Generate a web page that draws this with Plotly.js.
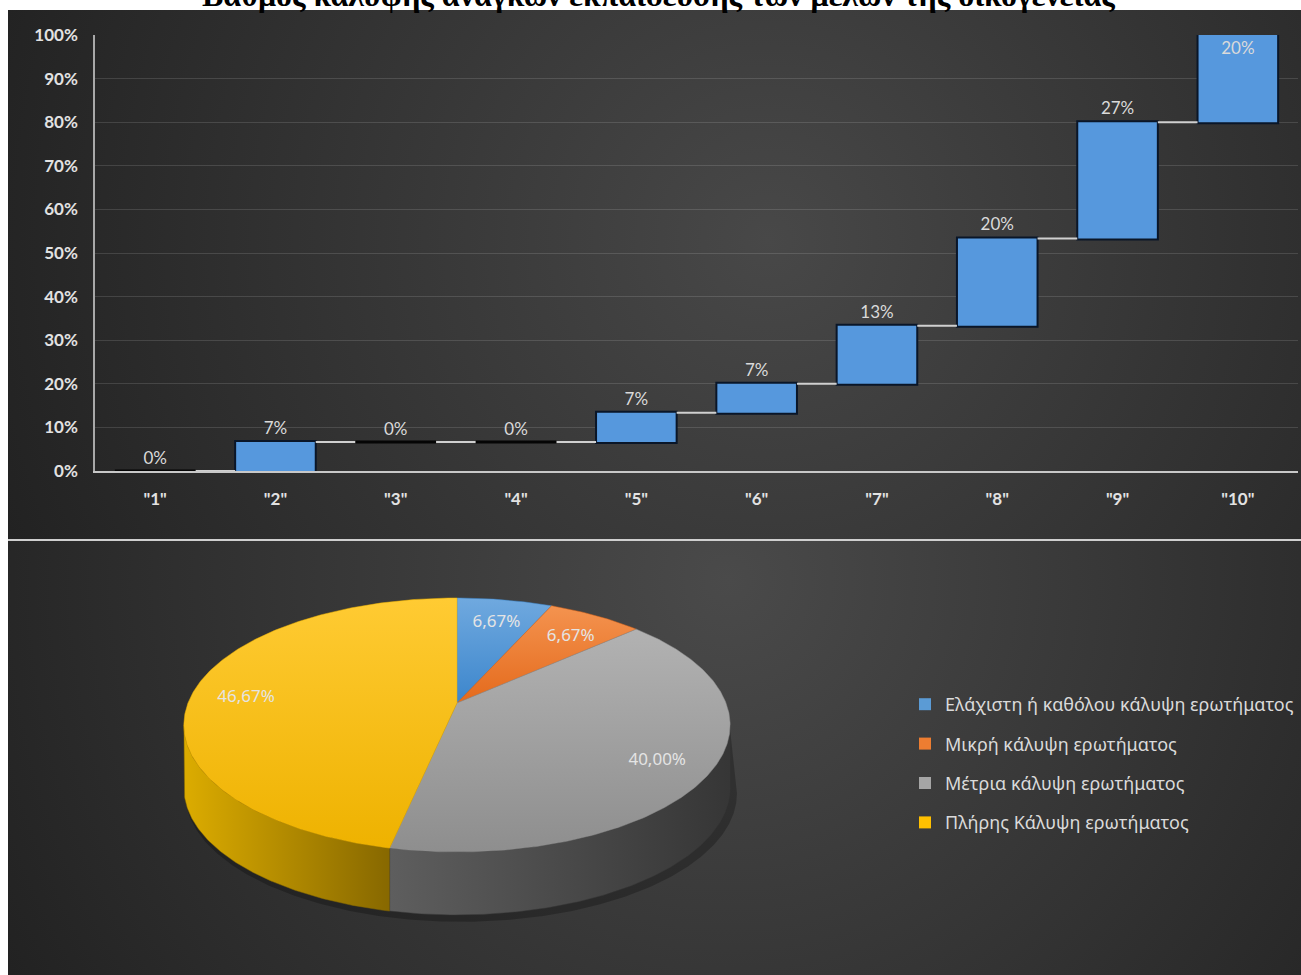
<!DOCTYPE html>
<html><head><meta charset="utf-8">
<script src="https://cdn.plot.ly/plotly-3.0.1.min.js"></script>
<style>html,body{margin:0;padding:0;background:#fff;}#chart{width:1301px;height:975px;}</style>
</head><body><div id="chart"></div>
<script>
// ---------- data ----------
const chartTitle = 'Βαθμός κάλυψης αναγκών εκπαίδευσης των μελών της οικογένειας';
const scoreLabels = ['"1"','"2"','"3"','"4"','"5"','"6"','"7"','"8"','"9"','"10"'];
const scoreShares = [0, 6.67, 0, 0, 6.67, 6.67, 13.33, 20, 26.67, 20];
const yTickValues = [0,10,20,30,40,50,60,70,80,90,100];
const yTickLabels = ['0%','10%','20%','30%','40%','50%','60%','70%','80%','90%','100%'];
const coverageLabels = ['Ελάχιστη ή καθόλου κάλυψη ερωτήματος','Μικρή κάλυψη ερωτήματος','Μέτρια κάλυψη ερωτήματος','Πλήρης Κάλυψη ερωτήματος'];
const coverageShares = [6.67, 6.67, 40.00, 46.67];
const coverageText = ['6,67%','6,67%','40,00%','46,67%'];

// ---------- styling ----------
const W = 1301, H = 975;
const txtCol = '#dadada';
const topFace = [['#70a9df','#3c86cc'],['#f4934f','#e46a1c'],['#b2b2b2','#8e8e8e'],['#ffcb33','#eeb200']];
const legendCol = ['#5b9bd5','#ed7d31','#a5a5a5','#ffc000'];
const sideFace = [['#3c86cc','#2a5f91'],['#d8641c','#9a4712'],['#5e5e5e','#363636'],['#dcac00','#876800']];
const gapFrac = 0.33;

function panelBg(w,h,cx,cy,r,inner,outer){
  const c=document.createElement('canvas'); c.width=w; c.height=h;
  const g=c.getContext('2d');
  const gr=g.createRadialGradient(cx,cy,0,cx,cy,r);
  gr.addColorStop(0,inner); gr.addColorStop(1,outer);
  g.fillStyle=gr; g.fillRect(0,0,w,h);
  return c.toDataURL();
}
const topBg = panelBg(1293,530,760,230,880,'#484848','#1f1f1f');
const botBg = panelBg(1293,435,720,40,900,'#4a4a4a','#1e1e1e');

// ---------- waterfall ----------
const last = scoreShares.length-1;
const lblFont = {color:txtCol,size:17,family:'Lato'};
const traces = [];
traces.push({
  type:'waterfall', x:scoreLabels, y:scoreShares,
  measure:scoreShares.map(()=> 'relative'),
  text:scoreShares.map(v=>Math.round(v)+'%'),
  textposition:scoreShares.map((v,i)=> i===last?'inside':'outside'),
  insidetextanchor:'end', constraintext:'none',
  textfont:lblFont, outsidetextfont:lblFont, insidetextfont:lblFont,
  increasing:{marker:{color:'#5698dd',line:{color:'#0a1628',width:2}}},
  decreasing:{marker:{color:'#5698dd',line:{color:'#0a1628',width:2}}},
  connector:{mode:'between',line:{color:'#d0d0d0',width:2}},
  cliponaxis:false, showlegend:false, hoverinfo:'skip',
  xaxis:'x', yaxis:'y'
});
// zero-height steps drawn as black dashes at their running level (on an index axis matching the categories)
{
  let run=0; const zx=[], zy=[];
  scoreShares.forEach((v,i)=>{
    if(v===0){ const hw=(1-gapFrac)/2; zx.push(i-hw,i+hw,null); zy.push(run,run,null); }
    run+=v;
  });
  traces.push({type:'scatter',mode:'lines',x:zx,y:zy,line:{color:'#050505',width:3},
    cliponaxis:false,showlegend:false,hoverinfo:'skip',xaxis:'x3',yaxis:'y'});
}

// ---------- 3D pie (projected ellipse) ----------
const cx=457, cy=703, R=269, A=123.2, K=0.173, depth=63;
function proj(r,t){ const u=r*Math.sin(t), v=r*Math.cos(t); const d=1+K*v/R; return [cx+u/d, cy-(A/R)*v/d]; }
const total = coverageShares.reduce((a,b)=>a+b,0);
const bounds=[0]; coverageShares.forEach((v,i)=>bounds.push(bounds[i]+v/total*2*Math.PI));
const tR = Math.acos(-K), tL = 2*Math.PI - tR;
function arc(t0,t1,r,dy){ const pts=[]; const n=Math.max(2,Math.ceil((t1-t0)/0.01)); for(let i=0;i<=n;i++){const p=proj(r,t0+(t1-t0)*i/n); pts.push([p[0],p[1]+(dy||0)]);} return pts; }

// shadow
{
  const top=arc(tR,tL,R*1.01,depth+5), pts=top.concat(arc(tR,tL,R*0.98,-10).reverse());
  traces.push({type:'scatter',mode:'lines',x:pts.map(p=>p[0]+4),y:pts.map(p=>p[1]),fill:'toself',fillcolor:'rgba(0,0,0,0.25)',line:{width:0},showlegend:false,hoverinfo:'skip',xaxis:'x2',yaxis:'y2'});
}
// sides
coverageShares.forEach((v,i)=>{
  const lo=Math.max(bounds[i],tR), hi=Math.min(bounds[i+1],tL);
  if(lo>=hi) return;
  const topE=arc(lo,hi,R,0), botE=arc(lo,hi,R,depth).reverse();
  const pts=topE.concat(botE);
  const xs=pts.map(p=>p[0]), ys=pts.map(p=>p[1]);
  const x0=Math.min(...xs), x1=Math.max(...xs);
  traces.push({type:'scatter',mode:'lines',x:xs,y:ys,fill:'toself',
    fillgradient:{type:'horizontal',start:x0,stop:x1,colorscale:[[0,sideFace[i][0]],[1,sideFace[i][1]]]},
    line:{width:0.5,color:sideFace[i][1]},showlegend:false,hoverinfo:'skip',xaxis:'x2',yaxis:'y2'});
});
// top faces
coverageShares.forEach((v,i)=>{
  const pts=[[cx,cy]].concat(arc(bounds[i],bounds[i+1],R,0)); pts.push([cx,cy]);
  const xs=pts.map(p=>p[0]), ys=pts.map(p=>p[1]);
  traces.push({type:'scatter',mode:'lines',x:xs,y:ys,fill:'toself',
    fillgradient:{type:'vertical',start:Math.min(...ys),stop:Math.max(...ys),colorscale:[[0,topFace[i][0]],[1,topFace[i][1]]]},
    line:{width:0.5,color:topFace[i][1]},name:coverageLabels[i],showlegend:false,hoverinfo:'skip',xaxis:'x2',yaxis:'y2'});
});
// labels
{
  const lp = coverageShares.map((v,i)=>proj(0.8*R,(bounds[i]+bounds[i+1])/2));
  traces.push({type:'scatter',mode:'text',x:lp.map(p=>p[0]),y:lp.map(p=>p[1]+5),text:coverageText,
    textfont:{color:'#e4e4e4',size:17,family:'Noto Sans'},showlegend:false,hoverinfo:'skip',xaxis:'x2',yaxis:'y2'});
}
// legend entries
coverageLabels.forEach((lab,i)=>{
  traces.push({type:'scatter',mode:'markers',x:[null],y:[null],name:lab,legendgroup:'g'+i,
    marker:{symbol:'square',size:12,color:legendCol[i]},xaxis:'x2',yaxis:'y2',hoverinfo:'skip'});
});

const tickFont = {color:'#e2e2e2',size:17,family:'Lato',weight:'bold'};
const xDom = [95/W,1298/W];
const layout = {
  width:W, height:H, margin:{l:0,r:0,t:0,b:0},
  paper_bgcolor:'#ffffff', plot_bgcolor:'rgba(0,0,0,0)',
  waterfallgap:gapFrac, bargap:gapFrac, showlegend:true,
  xaxis:{domain:xDom, type:'category', range:[-0.5, scoreLabels.length-0.5], showgrid:false, zeroline:false,
    showline:true, linecolor:'#c8c8c8', linewidth:2, ticks:'', ticklabelstandoff:12,
    tickfont:tickFont, fixedrange:true},
  xaxis3:{domain:xDom, overlaying:'x', anchor:'y', range:[-0.5, scoreLabels.length-0.5], visible:false, fixedrange:true},
  yaxis:{domain:[1-471/H,1-35/H], range:[0,100.02], tickmode:'array', tickvals:yTickValues, ticktext:yTickLabels,
    showgrid:true, gridcolor:'rgba(255,255,255,0.13)', gridwidth:1, zeroline:false,
    showline:true, linecolor:'#a8a8a8', linewidth:1.5, ticks:'', ticklabelstandoff:12,
    tickfont:tickFont, fixedrange:true},
  xaxis2:{domain:[0,1], range:[0,W], visible:false, anchor:'y2', fixedrange:true},
  yaxis2:{domain:[0,1], range:[H,0], visible:false, anchor:'x2', fixedrange:true},
  legend:{x:905/W, y:1-686/H, xanchor:'left', yanchor:'top', bgcolor:'rgba(0,0,0,0)',
    font:{color:txtCol,size:18,family:'Noto Sans'}, traceorder:'grouped', tracegroupgap:13, itemclick:false},
  images:[
    {source:topBg, xref:'paper', yref:'paper', x:8/W, y:1-10/H, sizex:1293/W, sizey:530/H, sizing:'stretch', xanchor:'left', yanchor:'top', layer:'below'},
    {source:botBg, xref:'paper', yref:'paper', x:8/W, y:1-540/H, sizex:1293/W, sizey:435/H, sizing:'stretch', xanchor:'left', yanchor:'top', layer:'below'}
  ],
  shapes:[{type:'line', xref:'paper', yref:'paper', x0:8/W, x1:1, y0:1-540/H, y1:1-540/H, line:{color:'#cfcfcf', width:2}}],
  annotations:[{text:'<b>'+chartTitle+'</b>', xref:'paper', yref:'paper', x:658/W, y:1+5/H, xanchor:'center', yanchor:'middle',
    showarrow:false, font:{family:'Liberation Serif', size:32, color:'#000'}}]
};
Plotly.newPlot('chart', traces, layout, {displayModeBar:false});
</script></body></html>
